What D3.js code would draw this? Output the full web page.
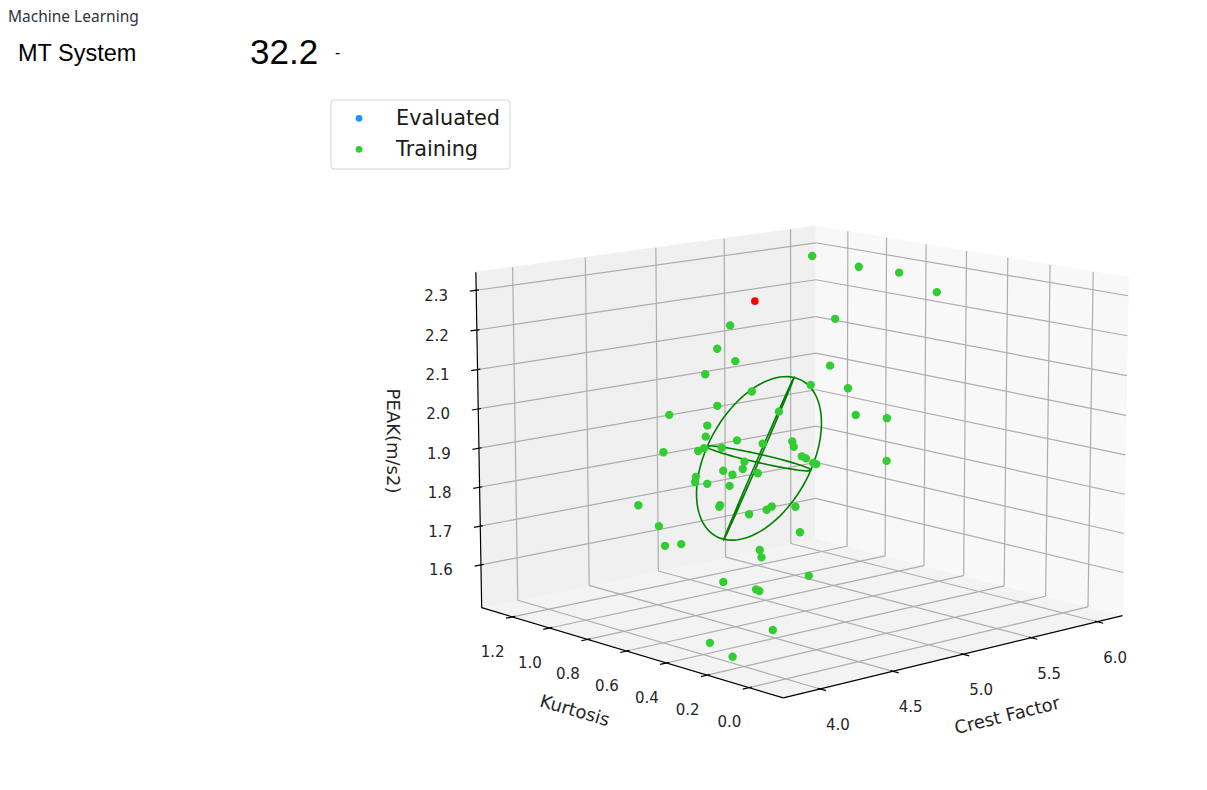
<!DOCTYPE html>
<html lang="en">
<head>
<meta charset="UTF-8">
<title>Machine Learning</title>
<script src="https://cdn.jsdelivr.net/npm/d3@7"></script>
<style>
body { margin:0; background:#fff; }
.tick text { font-family:"DejaVu Sans"; font-size:15px; fill:#262626; }
.axlabel { font-family:"DejaVu Sans"; font-size:18px; fill:#262626; }
.grid { stroke:#adadad; stroke-width:1.2; }
.axisline { stroke:#000; stroke-width:1.2; }
.ring { fill:none; stroke:#008000; stroke-width:1.6; }
</style>
</head>
<body>
<div id="chart"></div>
<script>
// axis ticks (labels as in the picture)
var crestTicks = [4.0, 4.5, 5.0, 5.5, 6.0];
var kurtTicks  = [0.0, 0.2, 0.4, 0.6, 0.8, 1.0, 1.2];
var peakTicks  = [1.6, 1.7, 1.8, 1.9, 2.0, 2.1, 2.2, 2.3];

// axis limits
var crestDomain = [3.7533, 6.1952];
var kurtDomain  = [-0.1599, 1.3682];
var peakDomain  = [1.4890, 2.3451];

// training samples
var trainCrest = [5.836,5.774,5.801,5.624,5.202,4.782,4.714,4.776,4.648,5.148,
                  5.057,5.202,4.820,4.673,4.476,4.912,5.213,5.334,4.618,4.604,
                  4.725,4.824,4.943,4.945,4.425,4.564,4.589,4.659,4.739,4.727,
                  4.649,4.682,4.783,4.970,4.985,5.010,5.021,5.302,4.536,4.529,
                  4.576,4.663,4.287,4.611,4.606,4.719,4.792,4.814,4.908,4.907,
                  4.354,4.363,4.429,4.735,4.736,4.567,4.691,4.703,4.910,4.366,
                  3.953,3.948];
var trainKurt  = [1.141,0.860,0.676,0.377,0.591,0.823,0.840,0.793,0.854,0.579,
                  0.612,0.527,0.741,0.811,0.914,0.670,0.496,0.425,0.823,0.821,
                  0.749,0.690,0.625,0.619,0.908,0.831,0.819,0.780,0.722,0.722,
                  0.765,0.742,0.686,0.596,0.586,0.567,0.560,0.404,0.823,0.822,
                  0.794,0.743,0.937,0.755,0.755,0.685,0.648,0.638,0.585,0.562,
                  0.881,0.857,0.822,0.643,0.635,0.708,0.631,0.623,0.520,0.319,
                  0.332,0.218];
var trainPeak  = [2.302,2.302,2.302,2.289,2.224,2.208,2.151,2.121,2.089,2.110,
                  2.063,2.055,2.047,2.012,1.990,1.998,1.990,1.982,1.964,1.937,
                  1.928,1.920,1.925,1.912,1.899,1.902,1.909,1.910,1.876,1.858,
                  1.854,1.844,1.848,1.889,1.884,1.873,1.870,1.878,1.839,1.826,
                  1.822,1.817,1.770,1.770,1.766,1.748,1.759,1.767,1.766,1.704,
                  1.719,1.671,1.675,1.661,1.643,1.583,1.565,1.561,1.598,1.532,
                  1.532,1.515];

// evaluated sample (drawn red)
var evalCrest = [4.898];
var evalKurt  = [0.780];
var evalPeak  = [2.267];

// covariance ellipsoid of the training set
var ellCenter = [4.799, 0.691, 1.884];
var ellAxes   = [[0.198, -0.037, 0.197],
                 [0.196, -0.122, -0.029],
                 [-0.100, -0.057, 0.004]];

// camera
var view = {elev:11.816, azim:-132.129, dist:16.908, kx:228.915, ky:229.312, cx:800.808, cy:444.828};
var width = 1207, height = 790;

var xS = d3.scaleLinear().domain(crestDomain).range([-1, 1]);
var yS = d3.scaleLinear().domain(kurtDomain).range([-1, 1]);
var zS = d3.scaleLinear().domain(peakDomain).range([-0.75, 0.75]);

var e = view.elev * Math.PI / 180, a = view.azim * Math.PI / 180;
var nV = [Math.cos(e)*Math.cos(a), Math.cos(e)*Math.sin(a), Math.sin(e)];
var rV = [-Math.sin(a), Math.cos(a), 0];
var uV = [-Math.sin(e)*Math.cos(a), -Math.sin(e)*Math.sin(a), Math.cos(e)];
function dot(p, q){ return p[0]*q[0] + p[1]*q[1] + p[2]*q[2]; }

// world [-1..1] -> screen
function projW(P){
	var f = view.dist / (view.dist - dot(P, nV));
	return [view.cx + view.kx*f*dot(P, rV), view.cy - view.ky*f*dot(P, uV)];
}
function proj(c, k, z){ return projW([xS(c), yS(k), zS(z)]); }

var line = d3.line();
var C0 = crestDomain[0], C1 = crestDomain[1];
var K0 = kurtDomain[0],  K1 = kurtDomain[1];
var Z0 = peakDomain[0],  Z1 = peakDomain[1];

var svg = d3.select("#chart").append("svg")
	.attr("width", width).attr("height", height)
	.style("display", "block");

// header
svg.append("text").text("Machine Learning")
	.attr("x", 8).attr("y", 22)
	.style("font-family", "'Noto Sans'").style("font-size", "15.5px").style("fill", "#33333d");
svg.append("text").text("MT System")
	.attr("x", 18).attr("y", 60.5)
	.style("font-family", "'Liberation Sans'").style("font-size", "23.5px").style("fill", "#000");
svg.append("text").text("32.2")
	.attr("x", 250).attr("y", 64)
	.style("font-family", "'Liberation Sans'").style("font-size", "35px").style("fill", "#000");
svg.append("text").text("-")
	.attr("x", 335).attr("y", 58)
	.style("font-family", "'Liberation Sans'").style("font-size", "16px").style("fill", "#000");

// panes
var panes = [
	{fill:"#f3f3f3", pts:[[C0,K0,Z0],[C1,K0,Z0],[C1,K1,Z0],[C0,K1,Z0]]},
	{fill:"#f0f0f0", pts:[[C0,K1,Z0],[C1,K1,Z0],[C1,K1,Z1],[C0,K1,Z1]]},
	{fill:"#f8f8f8", pts:[[C1,K0,Z0],[C1,K1,Z0],[C1,K1,Z1],[C1,K0,Z1]]}
];
svg.selectAll("path.pane").data(panes).enter().append("path")
	.attr("class", "pane")
	.attr("d", function(d){ return line(d.pts.map(function(p){ return proj(p[0],p[1],p[2]); })) + "Z"; })
	.attr("fill", function(d){ return d.fill; })
	.attr("stroke", function(d){ return d.fill; });

// grid lines
var gridSegs = [];
crestTicks.forEach(function(c){
	gridSegs.push([[c,K0,Z0],[c,K1,Z0]]);
	gridSegs.push([[c,K1,Z0],[c,K1,Z1]]);
});
kurtTicks.forEach(function(k){
	gridSegs.push([[C0,k,Z0],[C1,k,Z0]]);
	gridSegs.push([[C1,k,Z0],[C1,k,Z1]]);
});
peakTicks.forEach(function(z){
	gridSegs.push([[C0,K1,z],[C1,K1,z]]);
	gridSegs.push([[C1,K0,z],[C1,K1,z]]);
});
svg.append("g").selectAll("path").data(gridSegs).enter().append("path")
	.attr("class", "grid")
	.attr("d", function(d){ return line(d.map(function(p){ return proj(p[0],p[1],p[2]); })); });

// axis lines
var axisSegs = [
	[[C0,K0,Z0],[C1,K0,Z0]],
	[[C0,K0,Z0],[C0,K1,Z0]],
	[[C0,K1,Z0],[C0,K1,Z1]]
];
svg.append("g").selectAll("path").data(axisSegs).enter().append("path")
	.attr("class", "axisline")
	.attr("d", function(d){ return line(d.map(function(p){ return proj(p[0],p[1],p[2]); })); });

var fmt = d3.format(".1f");
var tout = 0.035, tin = 0.015;

// crest factor ticks
var gx = svg.append("g").attr("class", "tick").selectAll("g").data(crestTicks).enter().append("g");
gx.append("path").attr("class", "axisline")
	.attr("d", function(c){ return line([projW([xS(c), -1 - tout, -0.75]), projW([xS(c), -1 + tin, -0.75])]); });
gx.append("text").text(fmt)
	.attr("x", function(c){ return proj(c, K0, Z0)[0] + 17.8; })
	.attr("y", function(c){ return proj(c, K0, Z0)[1] + 36; })
	.attr("text-anchor", "middle").attr("dominant-baseline", "central");

// kurtosis ticks
var gy = svg.append("g").attr("class", "tick").selectAll("g").data(kurtTicks).enter().append("g");
gy.append("path").attr("class", "axisline")
	.attr("d", function(k){ return line([projW([-1 - tout, yS(k), -0.75]), projW([-1 + tin, yS(k), -0.75])]); });
gy.append("text").text(fmt)
	.attr("x", function(k){ return proj(C0, k, Z0)[0] - 19.7; })
	.attr("y", function(k){ return proj(C0, k, Z0)[1] + 34.7; })
	.attr("text-anchor", "middle").attr("dominant-baseline", "central");

// peak ticks
var gz = svg.append("g").attr("class", "tick").selectAll("g").data(peakTicks).enter().append("g");
gz.append("path").attr("class", "axisline")
	.attr("d", function(z){ return line([projW([-1 - tout, 1, zS(z)]), projW([-1 + tin, 1, zS(z)])]); });
gz.append("text").text(fmt)
	.attr("x", function(z){ return proj(C0, K1, z)[0] - 40; })
	.attr("y", function(z){ return proj(C0, K1, z)[1] + 5.5; })
	.attr("text-anchor", "middle").attr("dominant-baseline", "central");

// axis labels
svg.append("text").attr("class", "axlabel").text("Crest Factor")
	.attr("transform", "translate(1007,715) rotate(-14)")
	.attr("text-anchor", "middle").attr("dominant-baseline", "central");
svg.append("text").attr("class", "axlabel").text("Kurtosis")
	.attr("transform", "translate(575,710) rotate(16.3)")
	.attr("text-anchor", "middle").attr("dominant-baseline", "central");
svg.append("text").attr("class", "axlabel").text("PEAK(m/s2)")
	.attr("transform", "translate(393.5,441) rotate(90)")
	.attr("text-anchor", "middle").attr("dominant-baseline", "central");

// ellipsoid rings (three principal sections)
var ringPairs = [[0,1],[0,2],[1,2]];
var ts = d3.range(0, 101).map(function(i){ return i / 100 * 2 * Math.PI; });
svg.append("g").selectAll("path").data(ringPairs).enter().append("path")
	.attr("class", "ring")
	.attr("d", function(pr){
		var A = ellAxes[pr[0]], B = ellAxes[pr[1]];
		return line(ts.map(function(t){
			var cs = Math.cos(t), sn = Math.sin(t);
			return proj(ellCenter[0] + cs*A[0] + sn*B[0],
			            ellCenter[1] + cs*A[1] + sn*B[1],
			            ellCenter[2] + cs*A[2] + sn*B[2]);
		}));
	});

// training points
var train = trainCrest.map(function(c, i){ return proj(c, trainKurt[i], trainPeak[i]); });
svg.append("g").selectAll("circle").data(train).enter().append("circle")
	.attr("cx", function(d){ return d[0]; })
	.attr("cy", function(d){ return d[1]; })
	.attr("r", 4.2)
	.attr("fill", "#32cd32");

// evaluated point
var evl = evalCrest.map(function(c, i){ return proj(c, evalKurt[i], evalPeak[i]); });
svg.append("g").selectAll("circle").data(evl).enter().append("circle")
	.attr("cx", function(d){ return d[0]; })
	.attr("cy", function(d){ return d[1]; })
	.attr("r", 3.8)
	.attr("fill", "#ff0000");

// legend
var legendItems = [{name:"Evaluated", color:"#1e90ff"}, {name:"Training", color:"#32cd32"}];
var lg = svg.append("g");
lg.append("rect")
	.attr("x", 331).attr("y", 100).attr("width", 179).attr("height", 69)
	.attr("rx", 3).attr("fill", "#fff").attr("stroke", "#d3d3d3").attr("stroke-width", 1);
var li = lg.selectAll("g").data(legendItems).enter().append("g")
	.attr("transform", function(d, i){ return "translate(0," + (i * 31) + ")"; });
li.append("circle").attr("cx", 359).attr("cy", 118.3).attr("r", 3.4)
	.attr("fill", function(d){ return d.color; });
li.append("text").text(function(d){ return d.name; })
	.attr("x", 396).attr("y", 125.3)
	.style("font-family", "'DejaVu Sans'").style("font-size", "20.8px").style("fill", "#1a1a1a");
</script>
</body>
</html>
